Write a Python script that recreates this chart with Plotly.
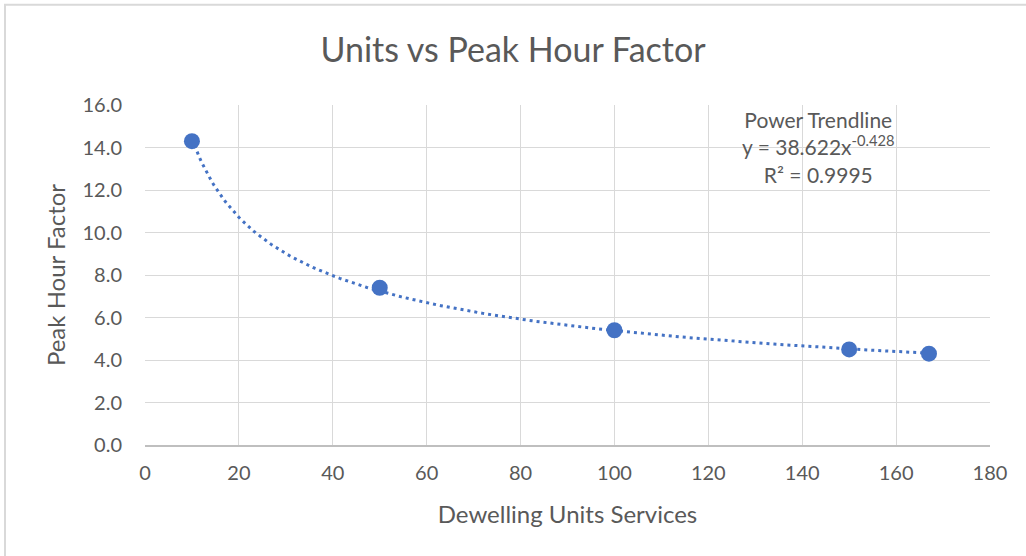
import numpy as np
import plotly.graph_objects as go

# Data
units = [10, 50, 100, 150, 167]
phf = [14.3, 7.4, 5.4, 4.5, 4.3]

# Power trendline coefficients shown on the chart
trend_a = 38.622
trend_b = -0.428
r_squared = 0.9995

x_ticks = list(range(0, 181, 20))
y_ticks = [0, 2, 4, 6, 8, 10, 12, 14, 16]

FONT = "Lato"
TXT = "#595959"
BLUE = "#4472C4"

tx = np.linspace(min(units), max(units), 300)
ty = trend_a * tx ** trend_b

fig = go.Figure()
fig.add_trace(go.Scatter(x=tx, y=ty, mode="lines",
                         line=dict(color=BLUE, width=3, dash="3px,4px"),
                         hoverinfo="skip", showlegend=False))
fig.add_trace(go.Scatter(x=units, y=phf, mode="markers",
                         marker=dict(color=BLUE, size=16),
                         showlegend=False))

fig.update_layout(
    width=1026, height=556,
    paper_bgcolor="white", plot_bgcolor="white",
    margin=dict(l=145, r=36, t=105, b=111),
    font=dict(family=FONT, color=TXT),
    title=dict(text="Units vs Peak Hour Factor", x=0.5, xanchor="center",
               y=0.91, yanchor="middle",
               font=dict(family=FONT, size=34, color=TXT)),
    xaxis=dict(range=[0, 180], tickvals=x_ticks, ticktext=[str(v) for v in x_ticks],
               showgrid=True, gridcolor="#d9d9d9", gridwidth=1.3,
               zeroline=False, showline=True, linecolor="#bfbfbf", linewidth=1.5,
               ticks="", tickfont=dict(size=20, color=TXT), ticklabelstandoff=9,
               title=dict(text="Dewelling Units Services", font=dict(size=24, color=TXT),
                          standoff=23)),
    yaxis=dict(range=[0, 16], tickvals=y_ticks, ticktext=[f"{v:.1f}" for v in y_ticks],
               showgrid=True, gridcolor="#d9d9d9", gridwidth=1.3,
               zeroline=False, showline=False,
               ticks="", tickfont=dict(size=20, color=TXT), ticklabelstandoff=22,
               title=dict(text="Peak Hour Factor", font=dict(size=24, color=TXT),
                          standoff=10)),
)

fig.add_annotation(
    x=143.4, y=1.0, xref="x", yref="paper", xanchor="center", yanchor="top",
    text=("Power Trendline<br>y = 38.622x<sup>-0.428</sup><br>R² = " + f"{r_squared}"),
    showarrow=False, align="center",
    font=dict(family=FONT, size=21, color=TXT),
)

# Outer chart border (top and left edges visible)
fig.add_shape(type="path", xref="x domain", yref="y domain",
              path="M -0.1657 -0.35 L -0.1657 1.2946 L 1.06 1.2946",
              line=dict(color="#d9d9d9", width=2), layer="below")

fig.write_html("out.html", config={"displayModeBar": False},
               post_script="document.body.style.margin='0px';")
